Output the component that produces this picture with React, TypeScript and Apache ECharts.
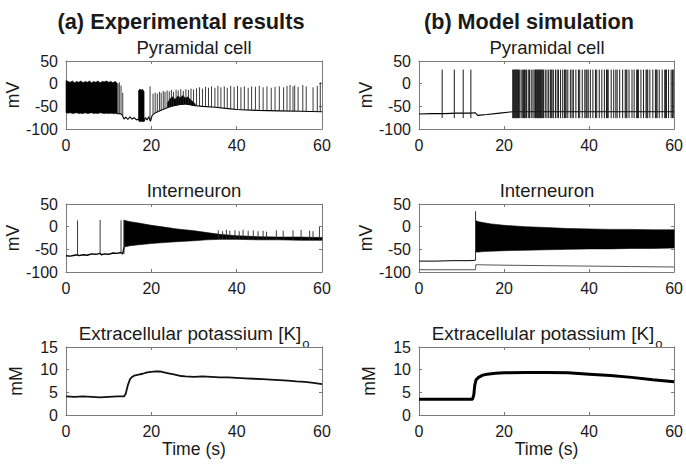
import React, { useEffect, useRef } from "react";
import * as echarts from "echarts";

// ---------- axis ticks ----------
const TIME_TICKS = [0, 20, 40, 60];
const VOLT_TICKS = [-100, -50, 0, 50];
const K_TICKS = [0, 5, 10, 15];

// ---------- texts ----------
const PANEL_HEADERS = ["(a) Experimental results", "(b) Model simulation"];
const ROW_TITLES = ["Pyramidal cell", "Interneuron", "Extracellular potassium [K]"];
const ROW_TITLE_SUB = "o";
const ROW_UNITS = ["mV", "mV", "mM"];
const X_NAME = "Time (s)";

// ---------- (a) experimental, pyramidal cell ----------
// dense firing envelope [t, low, high]
const pyrExpBand = [
  [0, -64, 7], [0.5, -65, 5], [1, -64, 3], [1.5, -66, 6], [2, -65, 2], [2.5, -64, 5],
  [3, -66, 3], [3.5, -65, 6], [4, -66, 2], [4.5, -64, 5], [5, -66, 3], [5.5, -65, 6],
  [6, -64, 2], [6.5, -66, 5], [7, -65, 3], [7.5, -66, 6], [8, -64, 2], [8.5, -65, 5],
  [9, -66, 4], [9.5, -65, 6], [10, -66, 3], [10.5, -65, 5], [11, -66, 2], [11.5, -66, 5],
  [12, -66, 1],
];
const pyrExpBurst = [[17, -82, -16], [17.3, -84, -12], [17.6, -83, -14], [18, -84, -13], [18.3, -82, -18]];
const pyrExpBlob = [
  [23.8, -52, -42], [24.4, -50, -33], [25.0, -49, -29], [25.6, -48, -35], [26.2, -47, -27],
  [26.8, -46, -31], [27.4, -46, -26], [28.0, -45, -32], [28.6, -46, -29], [29.2, -47, -36],
  [29.8, -48, -40], [30.3, -49, -45],
];
const pyrExpBase = [
  [12, -66], [12.6, -66], [13.1, -68], [13.6, -78], [14, -74], [14.5, -79], [15, -73],
  [15.5, -78], [16, -75], [16.5, -80], [17, -78], [18.3, -83], [18.6, -75], [19, -80],
  [19.4, -73], [19.8, -83], [20.2, -70], [21, -64], [22, -60], [23, -56], [24, -52],
  [25, -49], [26, -47], [27, -45], [28, -45], [29, -46], [30, -48], [32, -50], [35, -52],
  [38, -55], [40, -57], [45, -59], [50, -60], [55, -61], [60, -62],
];
// single spikes [t, low, high]
const pyrExpSpikes = [
  [12.2, -66, 0], [12.5, -66, 3], [12.9, -67, -4], [13.3, -70, -20],
  [19.7, -82, -6],
  [20.4, -68, -22], [20.9, -65, -20], [21.4, -63, -22], [21.9, -61, -18], [22.3, -59, -20],
  [22.8, -57, -16], [23.2, -56, -18], [23.7, -54, -15], [24.2, -52, -17], [24.7, -50, -14],
  [25.2, -49, -18], [25.8, -48, -13], [26.3, -47, -15], [26.9, -46, -12], [27.5, -45, -16],
  [28.1, -45, -12], [28.7, -46, -14], [29.3, -47, -11], [29.9, -48, -13],
  [30.6, -49, -10], [31.3, -50, -8], [32.0, -50, -11], [32.7, -51, -7], [33.4, -51, -9],
  [34.1, -52, -6], [34.9, -52, -9], [35.6, -53, -5], [36.3, -53, -8], [37.1, -54, -6],
  [37.8, -55, -9], [38.6, -55, -5], [39.4, -56, -7], [40.2, -57, -5], [41.0, -57, -8],
  [41.8, -57, -6], [42.7, -58, -9], [43.5, -58, -6], [44.4, -58, -7], [45.3, -59, -5],
  [46.2, -59, -8], [47.1, -59, -6], [48.1, -59, -9], [49.0, -60, -7], [50.0, -60, -6],
  [51.0, -60, -8], [51.8, -60, -5], [52.5, -60, -3], [53.2, -61, -6], [53.6, -61, -4],
  [54.4, -61, -7], [55.5, -61, -3], [56.3, -61, -6], [57.9, -62, -8], [58.9, -62, -5],
  [59.6, -62, 3],
];

// ---------- (b) model, pyramidal cell ----------
const pyrModBase = [
  [0, -67], [3, -66], [6, -66], [9, -65], [12, -65], [13.2, -64], [13.8, -70],
  [16, -68], [19, -65], [22, -62], [30, -62], [40, -62], [50, -62], [60, -62],
];
const PYR_MOD_PEAK = 31;
const PYR_MOD_TROUGH = -76;
const pyrModSpikeTimes = [
  5.45, 8.3, 10.4, 12.2,
  22.05, 22.2, 22.35, 22.5, 22.65, 22.8, 22.95, 23.1, 23.25, 23.4, 23.6, 24.0, 24.3,
  24.6, 24.8, 25.0, 25.3, 25.7, 26.0, 26.4, 26.8, 27.1, 27.4, 27.55, 27.7, 27.85, 28.0,
  28.15, 28.3, 28.45, 28.6, 28.75, 28.9, 29.1, 29.3, 29.7, 30.1, 30.5, 30.9, 31.1, 31.3,
  31.6, 32.1, 32.5, 32.8, 33.3, 33.8, 34.2, 34.4, 34.6, 35.0, 35.6, 36.0, 36.3, 36.9,
  37.5, 37.8, 38.4, 39.0, 39.3, 39.5, 39.8, 40.3, 40.9, 41.5, 41.8, 42.4, 43.0, 43.6,
  44.1, 44.3, 44.5, 45.2, 45.8, 46.3, 46.6, 47.2, 47.9, 48.5, 48.7, 48.9, 49.4, 50.1,
  50.6, 51.2, 51.4, 51.6, 52.2, 52.8, 53.4, 53.6, 53.8, 54.3, 55.0, 55.6, 55.8, 56.0,
  56.5, 57.2, 57.8, 58.0, 58.2, 58.7, 59.3, 59.6, 59.8,
];

// ---------- (a) experimental, interneuron ----------
const intExpBase = [
  [0, -64], [1, -65], [2, -63], [2.7, -62], [3, -64], [4, -62], [5, -63], [6, -60],
  [7, -61], [8, -59], [8.3, -62], [9, -60], [10, -61], [11, -58], [12, -59], [12.8, -57],
  [13.3, -60], [13.6, -45],
];
const intExpBand = [
  [13.6, -45, 14], [15, -42, 11], [17, -40, 8], [20, -37, 3], [23, -35, -1], [26, -33, -5],
  [30, -31, -9], [33, -29, -13], [36, -28, -17], [40, -28, -20], [45, -29, -22],
  [50, -29, -23], [55, -30, -23], [60, -30, -24],
];
const intExpSpikes = [
  [2.7, -62, 14], [8.0, -59, 15], [12.9, -57, 14], [13.6, -60, 15],
  [35.7, -27, -8], [36.7, -27, -10], [37.6, -27, -7], [38.4, -28, -9], [39.6, -28, -8],
  [40.6, -28, -10], [41.5, -28, -7], [42.7, -28, -9], [43.9, -29, -8], [45.0, -29, -10],
  [46.2, -29, -9], [47.0, -29, -11], [49.3, -29, -8], [50.9, -29, -9], [53.2, -30, -8],
  [55.1, -30, -7], [57.1, -30, -9], [57.9, -30, -10], [59.4, -30, -1],
];

// ---------- (b) model, interneuron ----------
const intModTrace = [[0, -76], [4, -76], [8, -75], [12, -75], [13.3, -74]];
const intModLower = [[0, -95], [13.3, -95], [13.35, -84], [20, -85], [30, -86], [40, -87], [50, -88], [60, -89]];
const intModSpikes = [[13.3, -74, 34]];
const intModBand = [
  [13.4, -56, 13], [14, -56, 11], [15, -55, 9], [17, -54, 6], [20, -53, 3], [25, -52, 0],
  [30, -51, -2], [35, -50, -4], [40, -49, -5], [45, -49, -6], [50, -48, -6], [55, -48, -7],
  [60, -47, -7],
];

// ---------- potassium ----------
const kExp = [
  [0, 4.1], [2, 4.0], [4, 4.1], [6, 4.0], [8, 3.9], [10, 4.0], [12, 4.1], [13.6, 4.1],
  [14, 4.7], [14.5, 6.6], [15, 7.9], [15.5, 8.4], [16, 8.7], [17, 8.9], [18, 9.1],
  [19, 9.4], [20, 9.5], [21, 9.6], [22, 9.6], [23, 9.4], [24, 9.2], [25, 9.0], [26, 8.8],
  [27, 8.6], [28, 8.5], [30, 8.4], [32, 8.5], [34, 8.4], [36, 8.3], [38, 8.3], [40, 8.2],
  [42, 8.1], [44, 8.0], [46, 7.9], [48, 7.8], [50, 7.7], [52, 7.6], [54, 7.4], [56, 7.3],
  [58, 7.1], [60, 6.8],
];
const kModel = [
  [0, 3.5], [5, 3.5], [10, 3.5], [12.6, 3.5], [12.9, 4.5], [13.1, 6.5], [13.4, 7.7],
  [14, 8.3], [15, 8.8], [16, 9.0], [18, 9.2], [20, 9.3], [25, 9.4], [30, 9.4], [35, 9.3],
  [40, 9.0], [45, 8.7], [50, 8.3], [55, 7.8], [60, 7.35],
];

const FONT = '"Liberation Sans", Arial, Helvetica, sans-serif';
const AXIS_COLOR = "#7a7a7a";
const TEXT_COLOR = "#1a1a1a";

const GRID_LEFTS = [66, 419];
const GRID_TOPS = [61, 204, 347];
const GRID_W = 256;
const GRID_H = 68;

function bandRender(band: number[][]) {
  return (params: any, api: any) => {
    if (params.dataIndex !== 0) return null;
    const top = band.map((p) => api.coord([p[0], p[2]]));
    const bot = band.slice().reverse().map((p) => api.coord([p[0], p[1]]));
    return {
      type: "polygon",
      shape: { points: top.concat(bot) },
      style: { fill: "#000", stroke: "#000", lineWidth: 0.6 },
    };
  };
}

function spikeRender(color: string, width: number) {
  return (_params: any, api: any) => {
    const a = api.coord([api.value(0), api.value(1)]);
    const b = api.coord([api.value(0), api.value(2)]);
    return {
      type: "line",
      shape: { x1: a[0], y1: a[1], x2: b[0], y2: b[1] },
      style: { stroke: color, lineWidth: width },
    };
  };
}

function measure(text: string, font: string): number {
  const cv = document.createElement("canvas");
  const ctx = cv.getContext("2d");
  if (!ctx) return text.length * 9;
  ctx.font = font;
  return ctx.measureText(text).width;
}

export default function App() {
  const ref = useRef<HTMLDivElement>(null);
  useEffect(() => {
    if (!ref.current) return;
    const chart = echarts.init(ref.current, null, { renderer: "svg" });

    const grids: any[] = [];
    const xAxes: any[] = [];
    const yAxes: any[] = [];
    const lineStyle = { color: AXIS_COLOR, width: 1 };
    for (let r = 0; r < 3; r++) {
      for (let c = 0; c < 2; c++) {
        const g = r * 2 + c;
        grids.push({ left: GRID_LEFTS[c], top: GRID_TOPS[r], width: GRID_W, height: GRID_H, containLabel: false });
        const yt = r === 2 ? K_TICKS : VOLT_TICKS;
        const xBase = {
          gridIndex: g, type: "value", min: TIME_TICKS[0], max: TIME_TICKS[TIME_TICKS.length - 1],
          interval: TIME_TICKS[1] - TIME_TICKS[0], splitLine: { show: false },
          axisLine: { show: true, onZero: false, lineStyle },
          axisTick: { show: true, inside: true, length: 3, lineStyle },
        };
        xAxes.push({
          ...xBase, position: "bottom",
          axisLabel: { show: true, fontSize: 16, fontFamily: FONT, color: TEXT_COLOR, margin: 8 },
          name: r === 2 ? X_NAME : "", nameLocation: "middle", nameGap: 23,
          nameTextStyle: { fontSize: 17.6, fontFamily: FONT, color: TEXT_COLOR },
        });
        xAxes.push({ ...xBase, position: "top", axisLabel: { show: false } });
        const yBase = {
          gridIndex: g, type: "value", min: yt[0], max: yt[yt.length - 1], interval: yt[1] - yt[0],
          splitLine: { show: false },
          axisLine: { show: true, onZero: false, lineStyle },
          axisTick: { show: true, inside: true, length: 3, lineStyle },
        };
        yAxes.push({
          ...yBase, position: "left",
          axisLabel: { show: true, fontSize: 16, fontFamily: FONT, color: TEXT_COLOR, margin: 8 },
          name: ROW_UNITS[r], nameLocation: "middle", nameGap: 41,
          nameTextStyle: { fontSize: 17.6, fontFamily: FONT, color: TEXT_COLOR },
        });
        yAxes.push({ ...yBase, position: "right", axisLabel: { show: false } });
      }
    }

    const ax = (g: number) => ({ xAxisIndex: g * 2, yAxisIndex: g * 2 });
    const line = (g: number, data: number[][], width = 1.1, color = "#000") => ({
      type: "line", ...ax(g), data, showSymbol: false, symbol: "none",
      lineStyle: { color, width }, silent: true, z: 2,
    });
    const band = (g: number, data: number[][]) => ({
      type: "custom", ...ax(g), data, encode: { x: 0, y: [1, 2] },
      renderItem: bandRender(data), silent: true, z: 3,
    });
    const spikes = (g: number, data: number[][], color = "#262626", width = 0.9) => ({
      type: "custom", ...ax(g), data, encode: { x: 0, y: [1, 2] },
      renderItem: spikeRender(color, width), silent: true, z: 4,
    });

    const pyrModSpikes = pyrModSpikeTimes.map((t) => [t, PYR_MOD_TROUGH, PYR_MOD_PEAK]);

    const series: any[] = [
      band(0, pyrExpBand), band(0, pyrExpBurst), band(0, pyrExpBlob),
      line(0, pyrExpBase), spikes(0, pyrExpSpikes),
      line(1, pyrModBase), spikes(1, pyrModSpikes, "#1a1a1a", 1),
      line(2, intExpBase, 1.4), band(2, intExpBand), spikes(2, intExpSpikes),
      line(3, intModTrace, 1), line(3, intModLower, 1, "#555"), spikes(3, intModSpikes, "#333", 1),
      band(3, intModBand),
      line(4, kExp, 1.8, "#111"),
      line(5, kModel, 3, "#000"),
    ];

    const titleFont = (size: number, weight = "normal") => ({
      fontSize: size, fontWeight: weight, fontFamily: FONT, fill: TEXT_COLOR,
      textAlign: "center", align: "center", textVerticalAlign: "middle", verticalAlign: "middle",
    });
    const graphic: any[] = [
      { type: "text", x: 181, y: 21, style: { text: PANEL_HEADERS[0], ...titleFont(21.8, "bold") } },
      { type: "text", x: 529, y: 21, style: { text: PANEL_HEADERS[1], ...titleFont(21.6, "bold") } },
    ];
    const colCenters = [194, 547];
    const rowTitleY = [47.5, 190.5, 333];
    const kTitleSize = 18.8;
    const kTitleW = measure(ROW_TITLES[2], `${kTitleSize}px ${FONT}`);
    const kCenters = [190, 543];
    for (let r = 0; r < 3; r++) {
      for (let c = 0; c < 2; c++) {
        if (r < 2) {
          graphic.push({ type: "text", x: colCenters[c], y: rowTitleY[r], style: { text: ROW_TITLES[r], ...titleFont(18.5) } });
        } else {
          graphic.push({ type: "text", x: kCenters[c], y: rowTitleY[r], style: { text: ROW_TITLES[r], ...titleFont(kTitleSize) } });
          graphic.push({
            type: "text", x: kCenters[c] + kTitleW / 2 + 1, y: rowTitleY[r] + 10,
            style: { ...titleFont(13), text: ROW_TITLE_SUB, textAlign: "left", align: "left" },
          });
        }
      }
    }

    chart.setOption({
      animation: false,
      backgroundColor: "#ffffff",
      grid: grids,
      xAxis: xAxes,
      yAxis: yAxes,
      series,
      graphic,
    });
    return () => chart.dispose();
  }, []);
  return (
    <div
      ref={ref}
      style={{ position: "absolute", left: 0, top: 0, width: 686, height: 468, background: "#fff" }}
    />
  );
}
